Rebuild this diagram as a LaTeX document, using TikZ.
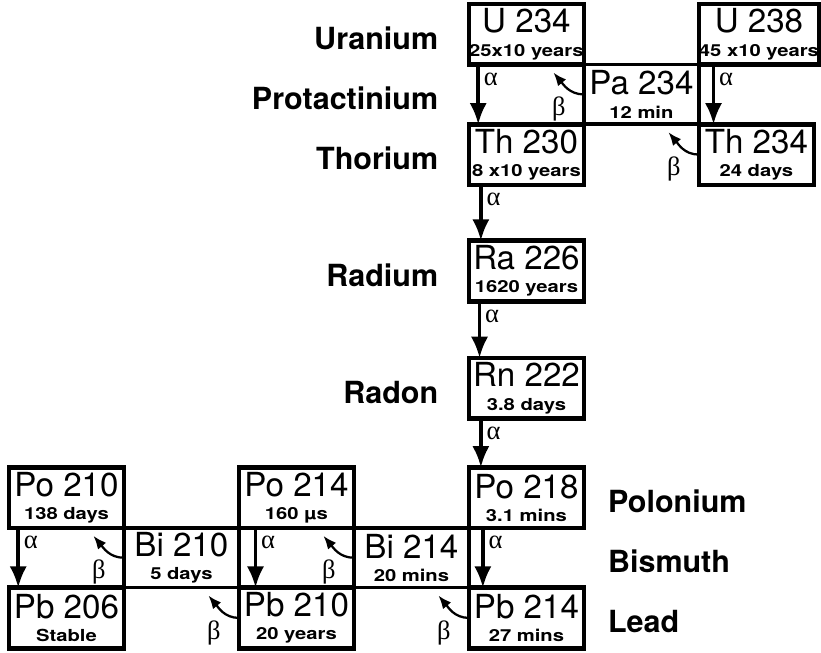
\documentclass[tikz,border=0pt]{standalone}
\usepackage{fontspec}
\setmainfont{TeX Gyre Heros}
\newfontfamily\greekfont{Liberation Serif}
\newfontfamily\subfont[FakeStretch=1.22]{TeX Gyre Heros}
\usetikzlibrary{arrows.meta, positioning, calc}

\newcommand{\iso}[2]{{\fontsize{25}{17.5}\selectfont #1}\\{\fontsize{12.5}{17.5}\subfont\bfseries #2}}

\begin{document}
\begin{tikzpicture}[
font=\fontsize{25}{17.5}\selectfont,
>=Latex,
node distance=0pt,
nuc/.style={
draw,
line width=3.5pt,
minimum width=86.75pt,
minimum height=45.75pt,
inner sep=0pt,
outer sep=0pt,
align=center
},
mid/.style={nuc, line width=2.75pt, minimum height=45pt},
elem/.style={font=\fontsize{23}{23}\selectfont\bfseries, inner sep=0pt},
adecay/.style={-{Latex[length=16pt,width=13pt]}, line width=2.6pt},
bdecay/.style={-{Latex[length=10pt,width=8pt]}, line width=1.7pt},
glab/.style={font=\fontsize{20}{20}\selectfont\greekfont, inner sep=0pt},
alab/.style={glab, pos=0, anchor=north west, xshift=3pt, yshift=-5pt},
blab/.style={glab, pos=0, xshift=-19pt, yshift=-11pt}
]

% Nodes
\node[nuc] (u234) {\iso{U 234}{25x10 years}};
\node[mid, below right=of u234] (pa234) {\iso{Pa 234}{12 min}};
\node[nuc, above right=of pa234] (u238) {\iso{U 238}{45 x10 years}};
\node[nuc, below left=of pa234] (th230) {\iso{Th 230}{8 x10 years}};
\node[nuc, below right=of pa234] (th234) {\iso{Th 234}{24 days}};
\node[nuc, below=42pt of th230] (ra226) {\iso{Ra 226}{1620 years}};
\node[nuc, below=42.75pt of ra226] (rn222) {\iso{Rn 222}{3.8 days}};
\node[nuc, below=36.75pt of rn222] (po218) {\iso{Po 218}{3.1 mins}};
\node[mid, below left=of po218] (bi214) {\iso{Bi 214}{20 mins}};
\node[nuc, below right=of bi214] (pb214) {\iso{Pb 214}{27 mins}};
\node[nuc, above left=of bi214] (po214) {\iso{Po 214}{160 µs}};
\node[mid, below left=of po214] (bi210) {\iso{Bi 210}{5 days}};
\node[nuc, below right=of bi210] (pb210) {\iso{Pb 210}{20 years}};
\node[nuc, above left=of bi210] (po210) {\iso{Po 210}{138 days}};
\node[nuc, below left=of bi210] (pb206) {\iso{Pb 206}{Stable}};

% Element names
\coordinate (parow) at (u234.west |- pa234.center);
\coordinate (birow) at (po218.east |- bi214.center);
\node[elem, left=23pt of u234, yshift=-3pt] (uranium) {Uranium};
\node[elem, left=23pt of parow, yshift=-3pt] (protact) {Protactinium};
\node[elem, left=23pt of th230, yshift=-3pt] (thorium) {Thorium};
\node[elem, left=23pt of ra226, yshift=-3pt] (radium) {Radium};
\node[elem, left=23pt of rn222, yshift=-3pt] (radon) {Radon};
\node[elem, right=18pt of po218, yshift=-3pt] (polonium) {Polonium};
\node[elem, right=18pt of birow, yshift=-3pt] (bismuth) {Bismuth};
\node[elem, right=18pt of pb214, yshift=-3pt] (lead) {Lead};

% Alpha decays
\draw[adecay] ([xshift=7pt]u234.south west) -- node[alab] {α} ([xshift=7pt]th230.north west);
\draw[adecay] ([xshift=11pt]u238.south west) -- node[alab] {α} ([xshift=11pt]th234.north west);
\draw[adecay] ([xshift=9pt]th230.south west) -- node[alab] {α} ([xshift=9pt]ra226.north west);
\draw[adecay] ([xshift=8pt]ra226.south west) -- node[alab] {α} ([xshift=8pt]rn222.north west);
\draw[adecay] ([xshift=9pt]rn222.south west) -- node[alab] {α} ([xshift=9pt]po218.north west);
\draw[adecay] ([xshift=10.5pt]po218.south west) -- node[alab] {α} ([xshift=10.5pt]pb214.north west);
\draw[adecay] ([xshift=12.5pt]po214.south west) -- node[alab] {α} ([xshift=12.5pt]pb210.north west);
\draw[adecay] ([xshift=7pt]po210.south west) -- node[alab] {α} ([xshift=7pt]pb206.north west);

% Beta decays
\draw[bdecay] (pa234.west) to[out=180, in=-50] node[blab] {β} ([shift={(-23pt,-6pt)}]u234.south east);
\draw[bdecay] (th234.west) to[out=180, in=-50] node[blab] {β} ([shift={(-23pt,-6pt)}]pa234.south east);
\draw[bdecay] (bi210.west) to[out=180, in=-50] node[blab] {β} ([shift={(-23pt,-6pt)}]po210.south east);
\draw[bdecay] (pb210.west) to[out=180, in=-50] node[blab] {β} ([shift={(-23pt,-6pt)}]bi210.south east);
\draw[bdecay] (bi214.west) to[out=180, in=-50] node[blab] {β} ([shift={(-23pt,-6pt)}]po214.south east);
\draw[bdecay] (pb214.west) to[out=180, in=-50] node[blab] {β} ([shift={(-23pt,-6pt)}]bi214.south east);

\pgfresetboundingbox
\useasboundingbox ($(pb206.south west)+(-6.75pt,-3pt)$) rectangle ($(u238.north east)+(1.5pt,3pt)$);
\end{tikzpicture}
\end{document}
